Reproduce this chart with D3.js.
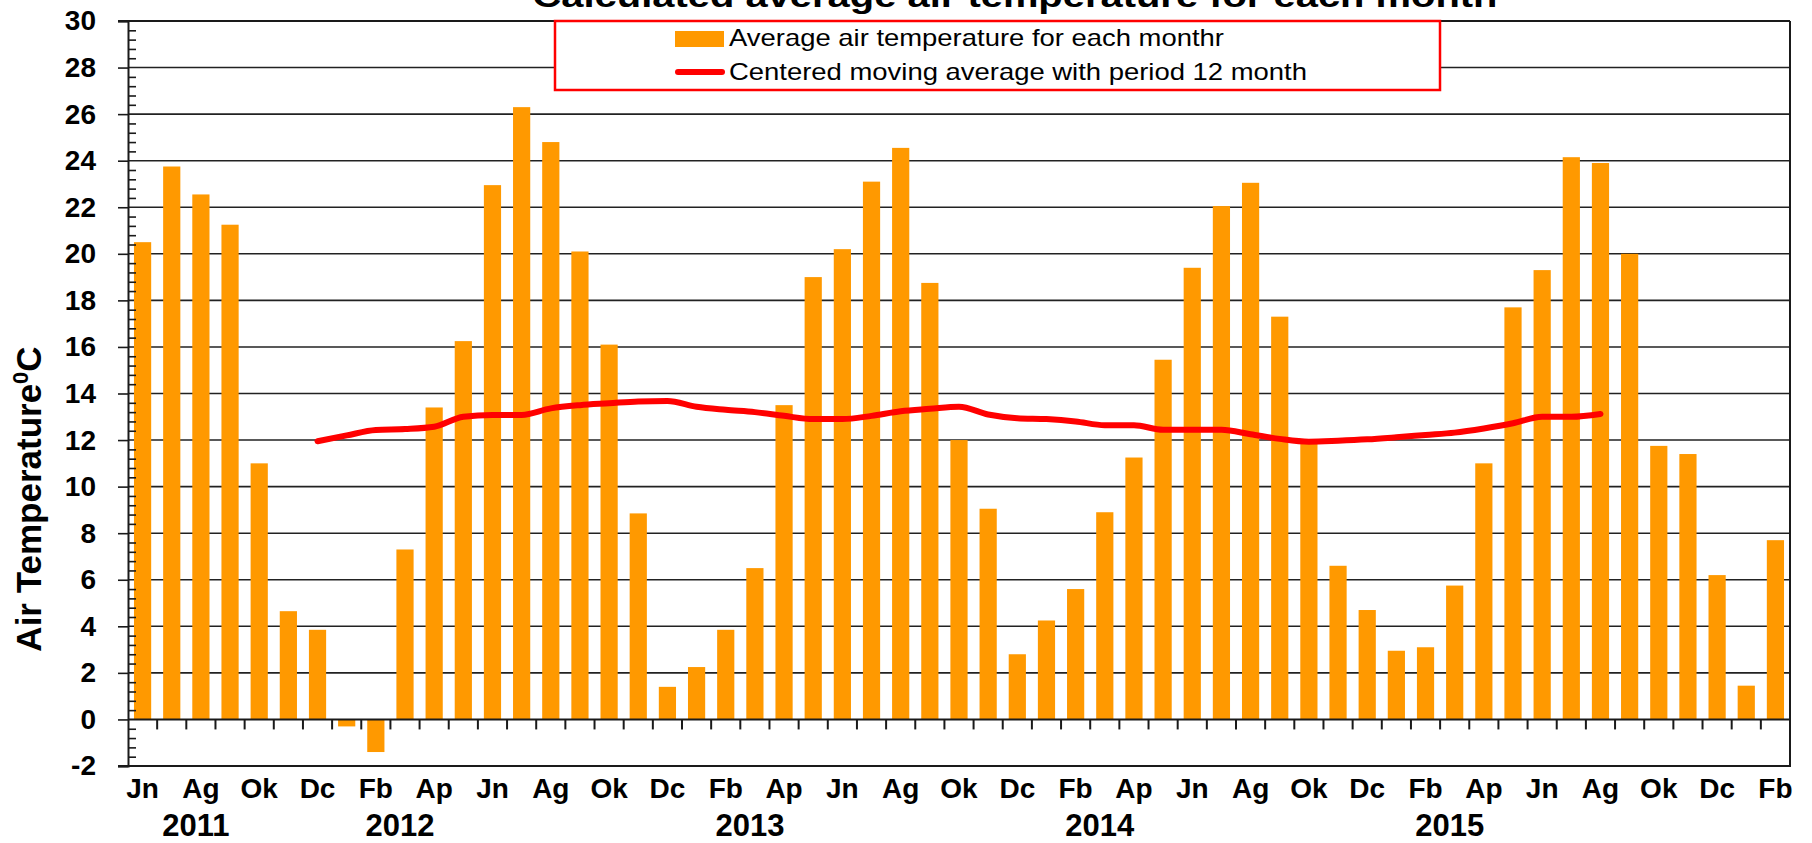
<!DOCTYPE html>
<html>
<head>
<meta charset="utf-8">
<script src="https://cdn.jsdelivr.net/npm/d3@7"></script>
<style>
  html, body { margin: 0; padding: 0; background: #fff; }
  svg { display: block; }
  text { font-family: "Liberation Sans", Arial, sans-serif; fill: #000; }
</style>
</head>
<body>
<svg id="chart" width="1812" height="843"></svg>
<script>
const categories = [
  "Jun 2011","Jul 2011","Aug 2011","Sep 2011","Oct 2011","Nov 2011","Dec 2011",
  "Jan 2012","Feb 2012","Mar 2012","Apr 2012","May 2012","Jun 2012","Jul 2012","Aug 2012","Sep 2012","Oct 2012","Nov 2012","Dec 2012",
  "Jan 2013","Feb 2013","Mar 2013","Apr 2013","May 2013","Jun 2013","Jul 2013","Aug 2013","Sep 2013","Oct 2013","Nov 2013","Dec 2013",
  "Jan 2014","Feb 2014","Mar 2014","Apr 2014","May 2014","Jun 2014","Jul 2014","Aug 2014","Sep 2014","Oct 2014","Nov 2014","Dec 2014",
  "Jan 2015","Feb 2015","Mar 2015","Apr 2015","May 2015","Jun 2015","Jul 2015","Aug 2015","Sep 2015","Oct 2015","Nov 2015","Dec 2015",
  "Jan 2016","Feb 2016"
];

const xTickLabels = [
  "Jn","","Ag","","Ok","","Dc",
  "","Fb","","Ap","","Jn","","Ag","","Ok","","Dc",
  "","Fb","","Ap","","Jn","","Ag","","Ok","","Dc",
  "","Fb","","Ap","","Jn","","Ag","","Ok","","Dc",
  "","Fb","","Ap","","Jn","","Ag","","Ok","","Dc",
  "","Fb"
];

const yearLabels = ["2011","2012","2013","2014","2015"];
const yearAnchors = ["Aug 2011","Mar 2012","Mar 2013","Mar 2014","Mar 2015"];

const monthlyTemps = [
  20.5, 23.75, 22.55, 21.25, 11.0, 4.65, 3.85,
  -0.3, -1.4, 7.3, 13.4, 16.25, 22.95, 26.3, 24.8, 20.1, 16.1, 8.85, 1.4,
  2.25, 3.85, 6.5, 13.5, 19.0, 20.2, 23.1, 24.55, 18.75, 12.0, 9.05, 2.8,
  4.25, 5.6, 8.9, 11.25, 15.45, 19.4, 22.05, 23.05, 17.3, 12.0, 6.6, 4.7,
  2.95, 3.1, 5.75, 11.0, 17.7, 19.3, 24.15, 23.9, 20.0, 11.75, 11.4, 6.2,
  1.45, 7.7
];

const movingAvg = [
  null, null, null, null, null, null, 11.95,
  12.2, 12.43, 12.47, 12.57, 13.0, 13.08, 13.08, 13.36, 13.5, 13.58, 13.66, 13.68,
  13.43, 13.3, 13.2, 13.04, 12.9, 12.9, 13.04, 13.24, 13.34, 13.43, 13.1, 12.94,
  12.9, 12.8, 12.64, 12.64, 12.44, 12.44, 12.44, 12.25, 12.05, 11.93, 11.97, 12.03,
  12.12, 12.22, 12.32, 12.5, 12.72, 13.0, 13.0, 13.12, null, null, null, null,
  null, null
];

const yTickValues = [-2, 0, 2, 4, 6, 8, 10, 12, 14, 16, 18, 20, 22, 24, 26, 28, 30];
const titleText = "Calculated average air temperature for each month";
const legendLabels = ["Average air temperature for each monthr", "Centered moving average with period 12 month"];

const BAR = "#FF9900", LINE = "#FF0000", AX = "#1a1a1a";

const svg = d3.select("#chart");
const L = 128, R = 1790, T = 21, B = 766;

const x = d3.scaleBand().domain(categories).range([L, R]).paddingInner(0.41).paddingOuter(0.205);
const y = d3.scaleLinear().domain([-2, 30]).range([B, T]);
const step = x.step();
const boundary = c => x(c) - step * x.paddingInner() / 2;

// gridlines
svg.append("g").selectAll("line").data(yTickValues.filter(v => v > 0 && v < 30))
  .join("line")
  .attr("x1", L).attr("x2", R).attr("y1", d => y(d)).attr("y2", d => y(d))
  .attr("stroke", "#222").attr("stroke-width", 1.6);

// bars
svg.append("g").selectAll("rect").data(categories)
  .join("rect")
  .attr("x", d => x(d))
  .attr("width", x.bandwidth())
  .attr("y", (d, i) => y(Math.max(0, monthlyTemps[i])))
  .attr("height", (d, i) => Math.abs(y(monthlyTemps[i]) - y(0)))
  .attr("fill", BAR);

// zero line with downward ticks
svg.append("line").attr("x1", L).attr("x2", R).attr("y1", y(0)).attr("y2", y(0))
  .attr("stroke", AX).attr("stroke-width", 2);
svg.append("g").selectAll("line").data(categories.slice(1))
  .join("line")
  .attr("x1", d => boundary(d)).attr("x2", d => boundary(d))
  .attr("y1", y(0)).attr("y2", y(0) + 10)
  .attr("stroke", AX).attr("stroke-width", 2);

// moving average line
const line = d3.line()
  .defined(d => d != null)
  .x((d, i) => x(categories[i]) + x.bandwidth() / 2)
  .y(d => y(d))
  .curve(d3.curveMonotoneX);
svg.append("path").datum(movingAvg)
  .attr("d", line)
  .attr("fill", "none").attr("stroke", LINE).attr("stroke-width", 6)
  .attr("stroke-linecap", "round").attr("stroke-linejoin", "round");

// frame
svg.append("line").attr("x1", L - 10).attr("x2", R).attr("y1", T).attr("y2", T).attr("stroke", AX).attr("stroke-width", 2);
svg.append("line").attr("x1", L - 10).attr("x2", R + 1).attr("y1", B).attr("y2", B).attr("stroke", AX).attr("stroke-width", 2);
svg.append("line").attr("x1", R).attr("x2", R).attr("y1", T).attr("y2", B).attr("stroke", AX).attr("stroke-width", 2);

// y axis (major ticks + labels)
const yAxis = d3.axisLeft(y).tickValues(yTickValues).tickSize(10).tickPadding(22).tickFormat(d => String(d));
const gy = svg.append("g").attr("transform", `translate(${L},0)`).call(yAxis);
gy.select(".domain").attr("stroke", AX).attr("stroke-width", 2);
gy.selectAll(".tick line").attr("stroke", AX).attr("stroke-width", 1.6);
gy.selectAll(".tick text")
  .style("font-family", '"Liberation Sans", Arial, sans-serif')
  .style("font-size", "28px").style("font-weight", "bold").attr("fill", "#000");

// minor ticks (inside)
const minorVals = d3.range(-2, 30.001, 0.4).filter(v => Math.abs(v / 2 - Math.round(v / 2)) > 0.01);
const yMinor = d3.axisRight(y).tickValues(minorVals).tickSize(8).tickFormat("");
const gm = svg.append("g").attr("transform", `translate(${L},0)`).call(yMinor);
gm.select(".domain").remove();
gm.selectAll(".tick line").attr("stroke", AX).attr("stroke-width", 1.6);

// x labels
svg.append("g").selectAll("text").data(categories.filter((c, i) => xTickLabels[i] !== ""))
  .join("text")
  .attr("x", d => x(d) + x.bandwidth() / 2)
  .attr("y", 798)
  .attr("text-anchor", "middle")
  .style("font-size", "28px").style("font-weight", "bold")
  .text(d => xTickLabels[categories.indexOf(d)]);

// year labels
svg.append("g").selectAll("text").data(yearLabels)
  .join("text")
  .attr("x", (d, i) => x(yearAnchors[i]) + x.bandwidth() / 2 - 5)
  .attr("y", 836)
  .attr("text-anchor", "middle")
  .style("font-size", "31px").style("font-weight", "bold")
  .text(d => d);

// y axis title
const yt = svg.append("text")
  .attr("transform", "translate(41,499) rotate(-90)")
  .attr("text-anchor", "middle")
  .style("font-size", "35px").style("font-weight", "bold");
yt.append("tspan").text("Air Temperature");
yt.append("tspan").attr("dy", -13).style("font-size", "22px").text("0");
yt.append("tspan").attr("dy", 13).text("C");

// title (mostly cut off at top, as in the reference)
svg.append("text")
  .attr("x", 1015).attr("y", 7)
  .attr("text-anchor", "middle")
  .attr("textLength", 965).attr("lengthAdjust", "spacingAndGlyphs")
  .style("font-size", "32px").style("font-weight", "bold")
  .text(titleText);

// legend
const lg = svg.append("g");
lg.append("rect").attr("x", 555).attr("y", 21).attr("width", 885).attr("height", 69)
  .attr("fill", "#fff").attr("stroke", "#FF0000").attr("stroke-width", 2.5);
lg.append("rect").attr("x", 675).attr("y", 31).attr("width", 49).attr("height", 16).attr("fill", BAR);
lg.append("line").attr("x1", 678).attr("x2", 722).attr("y1", 72).attr("y2", 72)
  .attr("stroke", LINE).attr("stroke-width", 6).attr("stroke-linecap", "round");
lg.append("text").attr("x", 729).attr("y", 46)
  .attr("textLength", 495).attr("lengthAdjust", "spacingAndGlyphs")
  .style("font-size", "24px").text(legendLabels[0]);
lg.append("text").attr("x", 729).attr("y", 80)
  .attr("textLength", 578).attr("lengthAdjust", "spacingAndGlyphs")
  .style("font-size", "24px").text(legendLabels[1]);
</script>
</body>
</html>
